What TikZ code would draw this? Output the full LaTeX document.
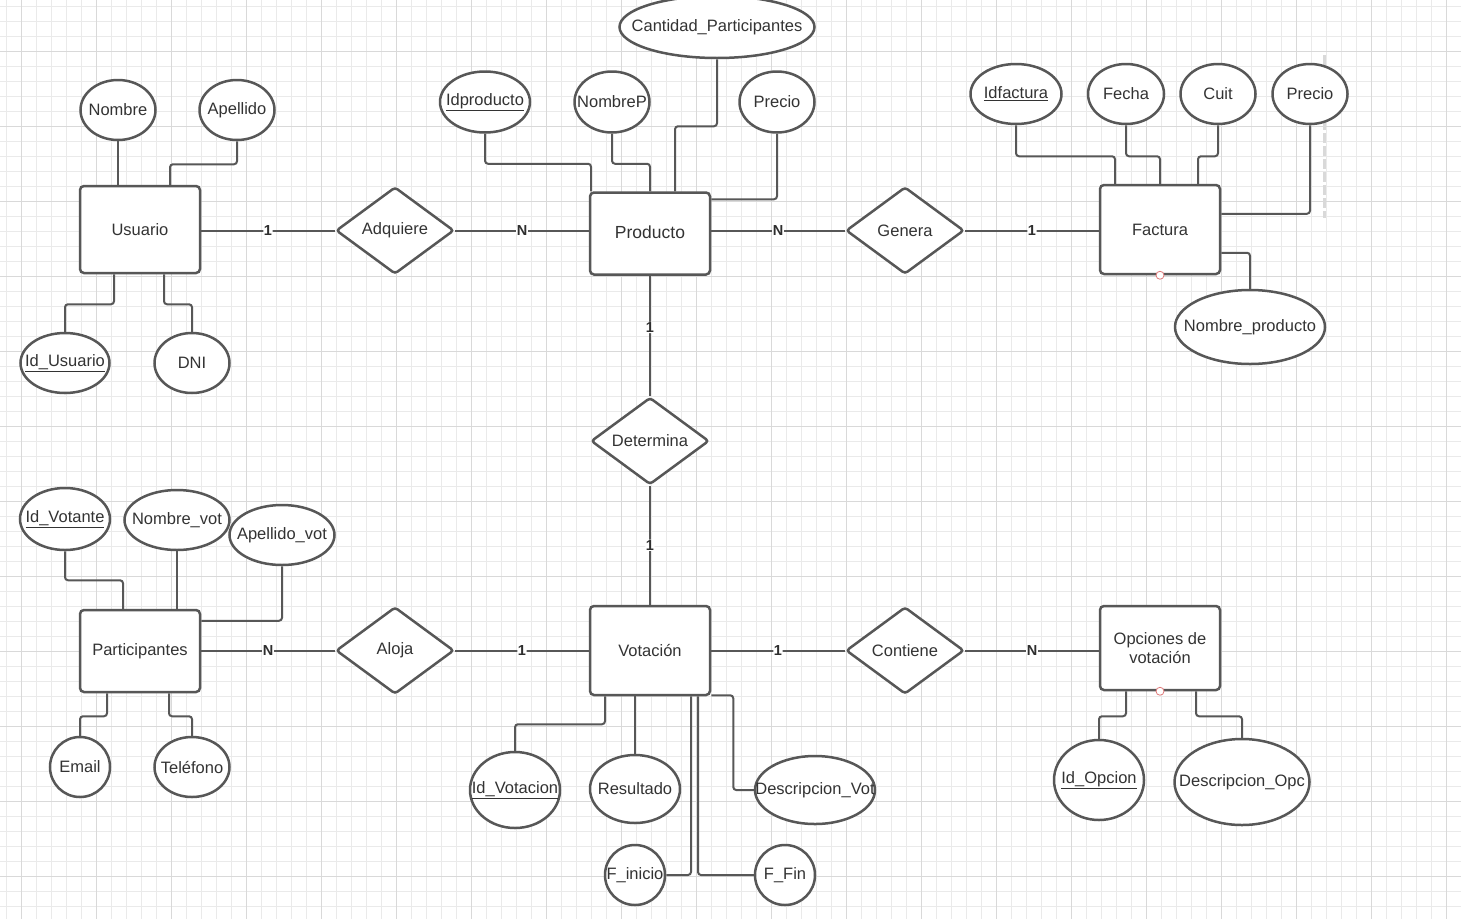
\documentclass[tikz,border=0pt]{standalone}
\usepackage{fontspec}
\setmainfont{Liberation Sans}
\usetikzlibrary{shapes.geometric,calc}

\definecolor{ink}{HTML}{575757}
\definecolor{txt}{HTML}{333333}
\definecolor{gridminor}{HTML}{EAEAEA}
\definecolor{gridmajor}{HTML}{D9D9D9}
\definecolor{anchorred}{HTML}{E07A7A}

% zero-width text box so that ellipses keep their given size
\newcommand{\zb}[1]{\makebox[0pt]{#1}}

\tikzset{
  every node/.style={text=txt, font=\fontsize{16.5}{19}\selectfont},
  entity/.style={draw=ink, line width=2.5pt, rounded corners=4pt, fill=white,
    minimum width=120pt, inner sep=0pt, align=center},
  relation/.style={draw=ink, line width=2.5pt, diamond, aspect=1.35,
    minimum width=118pt, minimum height=87pt, inner sep=0pt, fill=white,
    rounded corners=3pt},
  attr/.style={draw=ink, line width=2.5pt, ellipse, inner sep=0pt, fill=white},
  conn/.style={draw=ink, line width=2pt, rounded corners=3pt},
  card/.style={fill=white, inner sep=0.6pt, text=txt!90!black,
    font=\fontsize{14.5}{15}\selectfont\bfseries},
  portdot/.style={circle, draw=anchorred, fill=white, minimum size=8pt,
    inner sep=0pt, line width=0.8pt},
}

\begin{document}
\begin{tikzpicture}[x=1pt, y=-1pt]
\useasboundingbox (0,0) rectangle (1461,919);
\fill[white] (0,0) rectangle (1461,919);

% graph paper
\begin{scope}
  \clip (0,0) rectangle (1461,919);
  \foreach \x in {6,21,...,1461} \draw[gridminor, line width=0.8pt] (\x,0) -- (\x,919);
  \foreach \y in {6,21,...,919} \draw[gridminor, line width=0.8pt] (0,\y) -- (1461,\y);
  \foreach \x in {21,96,...,1461} \draw[gridmajor, line width=0.9pt] (\x,0) -- (\x,919);
  \foreach \y in {51,126,...,919} \draw[gridmajor, line width=0.9pt] (0,\y) -- (1461,\y);
\end{scope}

% guide line at the right of the Factura block
\draw[gray!30, line width=3pt, dash pattern=on 10pt off 3pt] (1324,55) -- (1324,218);

% ---------------- entities ----------------
\node[entity, minimum height=87pt] (usuario) at (140,229.5) {Usuario};
\node[entity, minimum height=82pt, font=\fontsize{17.5}{20}\selectfont] (producto) at (650,233.5) {\raisebox{3.5pt}{Producto}};
\node[entity, minimum height=89pt] (factura) at (1160,229.5) {Factura};
\node[entity, minimum height=82pt] (participantes) at (140,651) {Participantes};
\node[entity, minimum height=89pt] (votacion) at (650,650.5) {Votación};
\node[entity, minimum height=84pt] (opciones) at (1160,648) {Opciones de\\votación};

% ---------------- relationships ----------------
\node[relation] (adquiere) at (395,230.5) {Adquiere};
\node[relation] (genera) at (905,230.5) {Genera};
\node[relation] (determina) at (650,441) {Determina};
\node[relation] (aloja) at (395,650.5) {Aloja};
\node[relation] (contiene) at (905,650.5) {Contiene};

% ---------------- attributes ----------------
\node[attr, minimum width=75pt, minimum height=60pt] (nombre) at (118,110) {\zb{Nombre}};
\node[attr, minimum width=75pt, minimum height=60pt] (apellido) at (237,110) {\zb{Apellido}};
\node[attr, minimum width=89pt, minimum height=60pt] (idusuario) at (65,363) {\zb{\underline{Id\_Usuario}}};
\node[attr, minimum width=75pt, minimum height=60pt] (dni) at (192,363) {\zb{DNI}};

\node[attr, minimum width=195pt, minimum height=62pt] (cantidad) at (717,27) {\zb{Cantidad\_Participantes}};
\node[attr, minimum width=90pt, minimum height=61pt] (idproducto) at (485,102) {\zb{\underline{Idproducto}}};
\node[attr, minimum width=75pt, minimum height=61pt] (nombrep) at (612,102) {\zb{NombreP}};
\node[attr, minimum width=75pt, minimum height=61pt] (precioprod) at (777,102) {\zb{Precio}};

\node[attr, minimum width=91pt, minimum height=60pt] (idfactura) at (1016,94) {\zb{\underline{Idfactura}}};
\node[attr, minimum width=76pt, minimum height=60pt] (fecha) at (1126,94) {\zb{Fecha}};
\node[attr, minimum width=75pt, minimum height=60pt] (cuit) at (1218,94) {\zb{Cuit}};
\node[attr, minimum width=75pt, minimum height=60pt] (preciofact) at (1310,94) {\zb{Precio}};
\node[attr, minimum width=150pt, minimum height=74pt] (nombreprod) at (1250,327) {\zb{Nombre\_producto}};

\node[attr, minimum width=90pt, minimum height=62pt] (idvotante) at (65,519) {\zb{\underline{Id\_Votante}}};
\node[attr, minimum width=105pt, minimum height=60pt] (nombrevot) at (177,520) {\zb{Nombre\_vot}};
\node[attr, minimum width=105pt, minimum height=60pt] (apellidovot) at (282,535) {\zb{Apellido\_vot}};
\node[attr, minimum width=60pt, minimum height=60pt] (email) at (80,767) {\zb{Email}};
\node[attr, minimum width=75pt, minimum height=60pt] (telefono) at (192,767) {\zb{Teléfono}};

\node[attr, minimum width=90pt, minimum height=76pt] (idvotacion) at (515,790) {\zb{\underline{Id\_Votacion}}};
\node[attr, minimum width=90pt, minimum height=68pt] (resultado) at (635,789) {\zb{Resultado}};
\node[attr, minimum width=120pt, minimum height=68pt] (descvot) at (815,790) {\zb{Descripcion\_Vot}};
\node[attr, minimum width=60pt, minimum height=60pt] (finicio) at (635,875) {\zb{F\_inicio}};
\node[attr, minimum width=60pt, minimum height=60pt] (ffin) at (785,875) {\zb{F\_Fin}};

\node[attr, minimum width=90pt, minimum height=80pt] (idopcion) at (1099,780) {\zb{\underline{Id\_Opcion}}};
\node[attr, minimum width=135pt, minimum height=86pt] (descopc) at (1242,782) {\zb{Descripcion\_Opc}};

% ---------------- relationship lines ----------------
\draw[conn] (usuario.east |- adquiere.west) -- node[card]{1} (adquiere.west);
\draw[conn] (adquiere.east) -- node[card]{N} (adquiere.east -| producto.west);
\draw[conn] (genera.west -| producto.east) -- node[card]{N} (genera.west);
\draw[conn] (genera.east) -- node[card]{1} (genera.east -| factura.west);
\draw[conn] (producto.south) -- node[card, pos=0.43]{1} (determina.north);
\draw[conn] (determina.south) -- node[card]{1} (votacion.north);
\draw[conn] (participantes.east |- aloja.west) -- node[card]{N} (aloja.west);
\draw[conn] (aloja.east) -- node[card]{1} (aloja.east -| votacion.west);
\draw[conn] (contiene.west -| votacion.east) -- node[card]{1} (contiene.west);
\draw[conn] (contiene.east) -- node[card]{N} (contiene.east -| opciones.west);

% ---------------- attribute lines ----------------
% Usuario
\draw[conn] (nombre.south) -- (nombre.south |- usuario.north);
\draw[conn] (apellido.south) -- ++(0,23) -| ([xshift=30pt]usuario.north);
\draw[conn] ([xshift=-26pt]usuario.south) -- ++(0,30) -| (idusuario.north);
\draw[conn] ([xshift=24pt]usuario.south) -- ++(0,30) -| (dni.north);
% Producto
\draw[conn] (idproducto.south) -- ++(0,30) -| ([xshift=-59pt]producto.north);
\draw[conn] (nombrep.south) -- ++(0,30) -| (producto.north);
\draw[conn] (cantidad.south) -- ++(0,67) -| ([xshift=25pt]producto.north);
\draw[conn] (precioprod.south) |- ([yshift=-8pt]producto.north east);
% Factura
\draw[conn] (idfactura.south) -- ++(0,31) -| ([xshift=-45pt]factura.north);
\draw[conn] (fecha.south) -- ++(0,31) -| (factura.north);
\draw[conn] (cuit.south) -- ++(0,31) -| ([xshift=38pt]factura.north);
\draw[conn] (preciofact.south) |- ([yshift=-30pt]factura.north east);
\draw[conn] ([yshift=-69pt]factura.north east) -| (nombreprod.north);
% Participantes
\draw[conn] (idvotante.south) -- ++(0,29) -| ([xshift=-17pt]participantes.north);
\draw[conn] (nombrevot.south) -- (nombrevot.south |- participantes.north);
\draw[conn] (apellidovot.south) |- ([yshift=-12pt]participantes.north east);
\draw[conn] ([xshift=-33pt]participantes.south) -- ++(0,23) -| (email.north);
\draw[conn] ([xshift=29pt]participantes.south) -- ++(0,23) -| (telefono.north);
% Votacion
\draw[conn] ([xshift=-45pt]votacion.south) -- ++(0,28) -| (idvotacion.north);
\draw[conn] (resultado.north) -- (resultado.north |- votacion.south);
\draw[conn] ([xshift=41pt]votacion.south) |- (finicio.east);
\draw[conn] ([xshift=48pt]votacion.south) |- (ffin.west);
\draw[conn] ([yshift=1pt]votacion.south east) -- ++(22,0) |- (descvot.west);
% Opciones de votacion
\draw[conn] ([xshift=-34pt]opciones.south) -- ++(0,25) -| (idopcion.north);
\draw[conn] ([xshift=36pt]opciones.south) -- ++(0,25) -| (descopc.north);

% connection points
\node[portdot] (facturaport) at (factura.south) {};
\node[portdot] (opcionesport) at (opciones.south) {};
\end{tikzpicture}
\end{document}
